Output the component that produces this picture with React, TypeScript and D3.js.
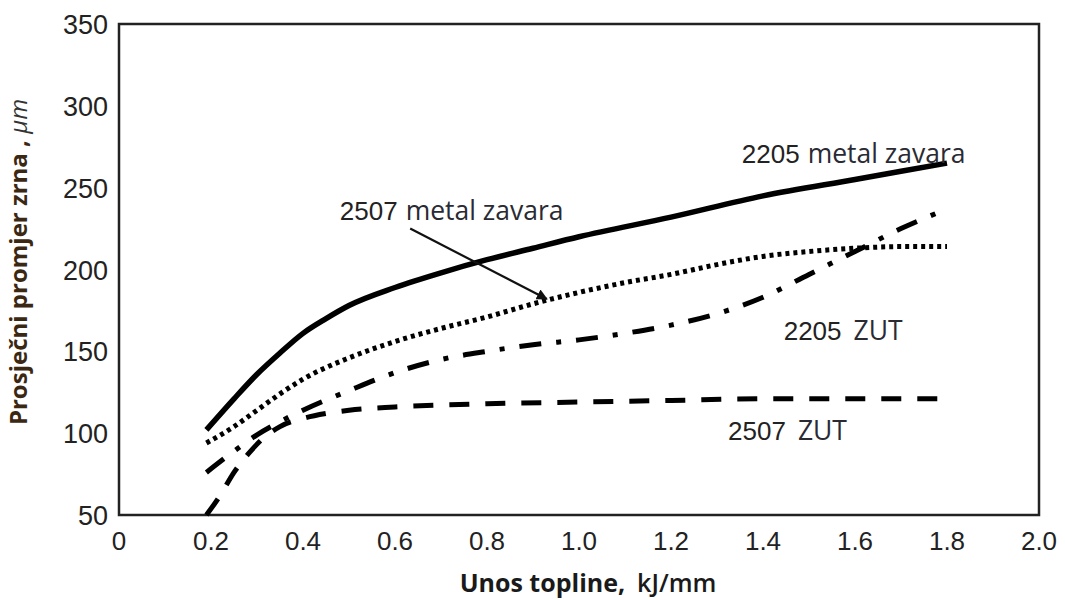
import React from "react";
import * as d3 from "d3";

const xTicks = [0, 0.2, 0.4, 0.6, 0.8, 1.0, 1.2, 1.4, 1.6, 1.8, 2.0];
const xTickLabels = ["0", "0.2", "0.4", "0.6", "0.8", "1.0", "1.2", "1.4", "1.6", "1.8", "2.0"];
const yTicks = [50, 100, 150, 200, 250, 300, 350];

// 2205 metal zavara (solid)
const weld2205: [number, number][] = [
  [0.19, 102], [0.25, 121], [0.3, 136], [0.35, 149], [0.4, 161], [0.45, 170], [0.5, 178],
  [0.6, 189], [0.7, 198], [0.8, 206], [0.9, 213], [1.0, 220], [1.2, 232], [1.4, 245],
  [1.6, 255], [1.8, 265],
];
// 2507 metal zavara (dotted)
const weld2507: [number, number][] = [
  [0.19, 94], [0.25, 104], [0.3, 114], [0.35, 124], [0.4, 133], [0.5, 146], [0.6, 156],
  [0.7, 164], [0.8, 171], [0.9, 179], [1.0, 186], [1.1, 192], [1.2, 197], [1.3, 203],
  [1.4, 208], [1.5, 211], [1.6, 213], [1.7, 214], [1.8, 214],
];
// 2205 ZUT (dash-dot)
const haz2205: [number, number][] = [
  [0.19, 76], [0.25, 89], [0.3, 99], [0.35, 107], [0.4, 114], [0.5, 126], [0.6, 137],
  [0.7, 145], [0.8, 150], [0.9, 154], [1.0, 157], [1.1, 161], [1.2, 166], [1.3, 173],
  [1.4, 183], [1.5, 197], [1.6, 211], [1.7, 225], [1.8, 237],
];
// 2507 ZUT (dashed)
const haz2507: [number, number][] = [
  [0.19, 50], [0.22, 62], [0.25, 76], [0.28, 87], [0.31, 96], [0.35, 104], [0.4, 109],
  [0.45, 112], [0.5, 114], [0.6, 116], [0.8, 118], [1.0, 119], [1.2, 120], [1.4, 121],
  [1.6, 121], [1.8, 121],
];

const labelTexts = [
  { num: "2205", word: "metal zavara", x: 1.354, y: 265 },
  { num: "2507", word: "metal zavara", x: 0.48, y: 230 },
  { num: "2205", word: "ZUT", x: 1.445, y: 157 },
  { num: "2507", word: "ZUT", x: 1.324, y: 96 },
];
const arrowFrom: [number, number] = [0.633, 225];
const arrowTo: [number, number] = [0.93, 182];

export default function App() {
  const W = 1065, H = 600;
  const x = d3.scaleLinear().domain([0, 2]).range([119, 1039]);
  const y = d3.scaleLinear().domain([50, 350]).range([515, 24]);
  const line = d3
    .line<[number, number]>()
    .x((d) => x(d[0]))
    .y((d) => y(d[1]))
    .curve(d3.curveMonotoneX);

  const numFont = "Liberation Sans, Arial, sans-serif";
  const wordFont = "Open Sans, Noto Sans, sans-serif";

  return (
    <svg
      width={W}
      height={H}
      style={{ position: "absolute", left: 0, top: 0, background: "#fff" }}
    >
      <defs>
        <marker id="ah" viewBox="0 0 10 10" refX="9" refY="5" markerWidth="5" markerHeight="5" orient="auto">
          <path d="M0,0 L10,5 L0,10 z" fill="#111" />
        </marker>
      </defs>
      {/* frame */}
      <rect x={x(0)} y={y(350)} width={x(2) - x(0)} height={y(50) - y(350)} fill="none" stroke="#222" strokeWidth={2.5} />

      {/* y tick labels */}
      {yTicks.map((t) => (
        <text key={"y" + t} x={108} y={y(t) + 10} textAnchor="end" fontFamily={numFont} fontSize={27} fill="#222">
          {t}
        </text>
      ))}
      {/* x tick labels */}
      {xTicks.map((t, i) => (
        <text key={"x" + t} x={x(t)} y={550} textAnchor="middle" fontFamily={numFont} fontSize={26} fill="#222">
          {xTickLabels[i]}
        </text>
      ))}

      {/* axis titles */}
      <text x={588} y={592} textAnchor="middle" fontFamily={wordFont} fontSize={25} fill="#1a1a1a">
        <tspan fontWeight="bold">Unos topline,</tspan>
        <tspan fontWeight="600" dx={12}>kJ/mm</tspan>
      </text>
      <text
        transform={`translate(27,262) rotate(-90)`}
        textAnchor="middle"
        fontFamily={wordFont}
        fontSize={24}
        fill="#3b2813"
      >
        <tspan fontWeight="bold">Prosječni promjer zrna , </tspan>
        <tspan fontStyle="italic" fill="#333">μm</tspan>
      </text>

      {/* curves */}
      <path d={line(weld2205) || ""} fill="none" stroke="#000" strokeWidth={5.5} />
      <path d={line(weld2507) || ""} fill="none" stroke="#000" strokeWidth={5} strokeDasharray="4 4" />
      <path d={line(haz2205) || ""} fill="none" stroke="#000" strokeWidth={5} strokeDasharray="22 15 5 15" />
      <path d={line(haz2507) || ""} fill="none" stroke="#000" strokeWidth={5} strokeDasharray="20 16" />

      {/* arrow */}
      <line
        x1={x(arrowFrom[0])}
        y1={y(arrowFrom[1])}
        x2={x(arrowTo[0])}
        y2={y(arrowTo[1])}
        stroke="#111"
        strokeWidth={2.2}
        markerEnd="url(#ah)"
      />

      {/* labels */}
      {labelTexts.map((l, i) => (
        <text key={"l" + i} x={x(l.x)} y={y(l.y)} fill="#222">
          <tspan fontFamily={numFont} fontSize={26}>{l.num}</tspan>
          <tspan fontFamily={wordFont} fontSize={26.5} dx={l.word === "ZUT" ? 12 : 8} fill="#2a2a33">{l.word}</tspan>
        </text>
      ))}
    </svg>
  );
}
